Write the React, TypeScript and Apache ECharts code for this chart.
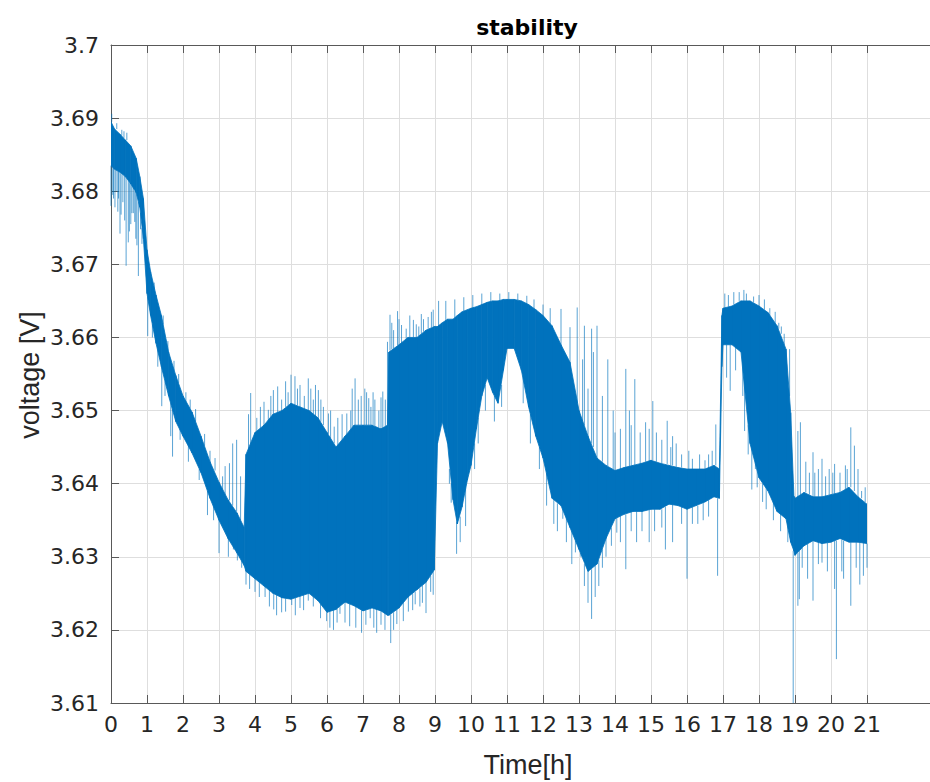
import React, { useEffect, useRef } from 'react';
import * as echarts from 'echarts';

// time [h] of the dense core band outline
const bandT = [
  0, 0.1, 0.25, 0.4, 0.55, 0.7, 0.8, 0.9, 1.0, 1.1, 1.25, 1.4, 1.6, 1.8, 2.0, 2.25, 2.5, 2.75, 3.0, 3.25, 3.5, 3.7,
  3.75, 4.0, 4.25, 4.5, 4.75, 5.0, 5.25, 5.5, 5.75, 6.0, 6.25, 6.5, 6.75, 7.0, 7.25, 7.5, 7.68, 7.72, 8.0, 8.25, 8.5,
  8.75, 8.98, 9.07, 9.2, 9.35, 9.5, 9.62, 9.75, 9.9, 10.0, 10.15, 10.3, 10.45, 10.6, 10.75, 10.9, 11.0, 11.2, 11.4,
  11.6, 11.8, 12.0, 12.25, 12.5, 12.75, 13.0, 13.25, 13.5, 13.75, 14.0, 14.25, 14.5, 14.75, 15.0, 15.25, 15.5, 15.75,
  16.0, 16.25, 16.5, 16.75, 16.9, 16.97, 17.0, 17.25, 17.5, 17.75, 18.0, 18.25, 18.5, 18.75, 18.88, 18.97, 19.0, 19.25,
  19.5, 19.75, 20.0, 20.25, 20.5, 20.75, 21.0,
];

// lower edge of the dense band [V]
const bandLow = [
  3.6835, 3.683, 3.6826, 3.682, 3.681, 3.6798, 3.6778, 3.6735, 3.666, 3.663, 3.6592, 3.656, 3.652, 3.6485, 3.6465,
  3.6442, 3.6415, 3.638, 3.635, 3.6325, 3.6305, 3.6288,
  3.628, 3.627, 3.626, 3.625, 3.6244, 3.6242, 3.6246, 3.625, 3.624, 3.6224, 3.6228, 3.6238, 3.6233, 3.6226, 3.623,
  3.6226, 3.622, 3.622, 3.623, 3.6245, 3.6255,
  3.6265, 3.6282, 3.6455, 3.6485, 3.6455, 3.6378, 3.6345, 3.6368, 3.6405, 3.6425, 3.6475, 3.652, 3.6545, 3.6525,
  3.651, 3.6555, 3.6585, 3.6585, 3.6555,
  3.6505, 3.6465, 3.6435, 3.638, 3.637, 3.634, 3.631, 3.628, 3.629, 3.6325, 3.6352, 3.6358, 3.6362, 3.6362, 3.6365,
  3.6365, 3.6372, 3.637,
  3.6365, 3.637, 3.6375, 3.6382, 3.638, 3.656, 3.659, 3.659, 3.658, 3.6455, 3.6408, 3.639, 3.6362, 3.6352, 3.632,
  3.6308, 3.6302, 3.6315,
  3.6322, 3.6318, 3.632, 3.6325, 3.632, 3.632, 3.6318,
];

// upper edge of the dense band [V]
const bandHigh = [
  3.6895, 3.6885, 3.6878, 3.687, 3.6862, 3.6845, 3.682, 3.679, 3.672, 3.669, 3.6658, 3.663, 3.658, 3.6548, 3.652,
  3.6498, 3.6465, 3.643, 3.6402, 3.6378, 3.636, 3.634,
  3.644, 3.647, 3.648, 3.6495, 3.65, 3.651, 3.6505, 3.65, 3.649, 3.647, 3.645, 3.6465, 3.648, 3.648, 3.648, 3.6475,
  3.648, 3.658, 3.659, 3.66, 3.66,
  3.661, 3.6615, 3.6615, 3.662, 3.6625, 3.6625, 3.663, 3.6635, 3.6638, 3.664, 3.6642, 3.6645, 3.6648, 3.665, 3.665,
  3.6652, 3.6652, 3.6652, 3.665,
  3.6645, 3.6638, 3.663, 3.6616, 3.659, 3.6566, 3.65, 3.6465, 3.6435, 3.6425, 3.6418, 3.6422, 3.6425, 3.6428, 3.6432,
  3.6428, 3.6425, 3.6422,
  3.642, 3.642, 3.642, 3.6425, 3.642, 3.663, 3.664, 3.6643, 3.665, 3.665, 3.6643, 3.6634, 3.6616, 3.6584, 3.6497,
  3.6383, 3.638, 3.6388,
  3.6382, 3.6382, 3.6385, 3.6388, 3.6395, 3.6382, 3.6372,
];

// isolated spikes: [time h, start V, tip V]
const spikes: [number, number, number][] = [
  // 0 - 1.3 h
  [0.0, 3.6835, 3.678], [0.02, 3.6895, 3.6906], [0.05, 3.6833, 3.6795], [0.07, 3.6832, 3.679], [0.11, 3.683, 3.6778],
  [0.14, 3.6829, 3.68], [0.16, 3.6885, 3.6893], [0.19, 3.6828, 3.6772], [0.21, 3.6827, 3.679], [0.25, 3.6826, 3.6742],
  [0.28, 3.6825, 3.6768], [0.3, 3.6876, 3.6884], [0.33, 3.6825, 3.6785], [0.36, 3.6873, 3.6882], [0.38, 3.6821, 3.676],
  [0.42, 3.682, 3.6698], [0.44, 3.687, 3.688], [0.48, 3.6815, 3.673], [0.51, 3.6812, 3.6745], [0.55, 3.681, 3.6755],
  [0.58, 3.6808, 3.677], [0.62, 3.6805, 3.677], [0.66, 3.68, 3.6758], [0.69, 3.6799, 3.6735], [0.72, 3.6795, 3.6726],
  [0.76, 3.6785, 3.6684], [0.82, 3.677, 3.6748], [0.86, 3.675, 3.6728], [1.02, 3.6655, 3.6602],
  // 1.1 - 3.7 h
  [1.15, 3.6618, 3.66], [1.2, 3.6665, 3.6675], [1.3, 3.6585, 3.656], [1.41, 3.656, 3.6506], [1.45, 3.6618, 3.663],
  [1.5, 3.654, 3.652], [1.58, 3.6582, 3.6595], [1.66, 3.651, 3.6465], [1.71, 3.6502, 3.6437], [1.75, 3.6555, 3.6568],
  [1.88, 3.6538, 3.655], [1.92, 3.6475, 3.646], [2.08, 3.651, 3.6525], [2.15, 3.6455, 3.643], [2.2, 3.6503, 3.6515],
  [2.35, 3.6485, 3.6502], [2.45, 3.642, 3.6405], [2.6, 3.6452, 3.6468], [2.68, 3.639, 3.6357], [2.75, 3.643, 3.6445],
  [2.85, 3.637, 3.635], [2.89, 3.6418, 3.6435], [3.0, 3.635, 3.6305], [3.1, 3.6392, 3.641], [3.17, 3.6385, 3.6424],
  [3.26, 3.6325, 3.63], [3.29, 3.6377, 3.6428], [3.38, 3.637, 3.6455], [3.4, 3.632, 3.631], [3.49, 3.6362, 3.646],
  [3.51, 3.6305, 3.6295], [3.6, 3.635, 3.641], [3.63, 3.6295, 3.6285],
  // 3.7 - 9 h upper
  [3.82, 3.6445, 3.6495], [3.88, 3.645, 3.6524], [4.05, 3.647, 3.649], [4.15, 3.6475, 3.6505], [4.25, 3.648, 3.6512],
  [4.37, 3.6485, 3.6501], [4.44, 3.649, 3.652], [4.51, 3.6495, 3.6528], [4.63, 3.6497, 3.6533], [4.74, 3.65, 3.6515],
  [4.85, 3.6505, 3.654], [4.92, 3.6507, 3.6525], [5.0, 3.651, 3.6549], [5.11, 3.6508, 3.6547], [5.18, 3.6507, 3.653],
  [5.25, 3.6505, 3.6535], [5.37, 3.6502, 3.652], [5.48, 3.65, 3.6544], [5.55, 3.6498, 3.653], [5.62, 3.6495, 3.6515],
  [5.68, 3.6492, 3.6535], [5.76, 3.649, 3.6528], [5.83, 3.6485, 3.6515], [5.9, 3.648, 3.6505], [6.04, 3.6468, 3.6496],
  [6.1, 3.6462, 3.65], [6.2, 3.6455, 3.6478], [6.3, 3.6452, 3.649], [6.42, 3.646, 3.6495], [6.55, 3.6467, 3.6496],
  [6.66, 3.6472, 3.65], [6.7, 3.6476, 3.653], [6.78, 3.648, 3.6544], [6.87, 3.648, 3.6515], [6.95, 3.648, 3.652],
  [7.05, 3.648, 3.653], [7.1, 3.648, 3.6525], [7.16, 3.648, 3.6517], [7.22, 3.648, 3.6505], [7.28, 3.648, 3.6525],
  [7.33, 3.6479, 3.6515], [7.44, 3.6477, 3.65], [7.5, 3.6475, 3.6518], [7.55, 3.6476, 3.6526], [7.62, 3.6478, 3.6515],
  [7.68, 3.648, 3.6594], [7.75, 3.6582, 3.6631], [7.8, 3.6584, 3.662], [7.85, 3.6585, 3.661], [7.96, 3.6589, 3.6636],
  [8.0, 3.659, 3.6625], [8.07, 3.6592, 3.6617], [8.2, 3.6598, 3.6612], [8.3, 3.66, 3.663], [8.4, 3.66, 3.6624],
  [8.48, 3.66, 3.6618], [8.55, 3.6602, 3.6615], [8.62, 3.6605, 3.6632], [8.68, 3.6608, 3.6625], [8.81, 3.6612, 3.6628],
  [8.9, 3.6614, 3.6635], [8.95, 3.6615, 3.6638],
  // 3.7 - 9 h lower
  [3.75, 3.628, 3.6262], [3.85, 3.6276, 3.6256], [4.0, 3.627, 3.6252], [4.12, 3.6266, 3.6245], [4.28, 3.626, 3.6245],
  [4.4, 3.6255, 3.6232], [4.52, 3.625, 3.6228], [4.6, 3.6248, 3.622], [4.74, 3.6245, 3.6224], [4.85, 3.6243, 3.6225],
  [5.02, 3.6242, 3.6234], [5.12, 3.6244, 3.622], [5.25, 3.6246, 3.623], [5.35, 3.6248, 3.6227], [5.48, 3.625, 3.624],
  [5.62, 3.6246, 3.6232], [5.82, 3.6236, 3.6216], [5.99, 3.6224, 3.6212], [6.08, 3.6225, 3.6203], [6.18, 3.6227, 3.62],
  [6.28, 3.6229, 3.621], [6.36, 3.6232, 3.6222], [6.5, 3.6238, 3.621], [6.63, 3.6236, 3.6205], [6.8, 3.6232, 3.6203],
  [6.96, 3.6227, 3.6196], [7.08, 3.6227, 3.6207], [7.2, 3.6229, 3.6216], [7.3, 3.6229, 3.6203], [7.38, 3.6229, 3.6196],
  [7.5, 3.6226, 3.6207], [7.61, 3.6223, 3.62], [7.77, 3.6221, 3.6182], [7.85, 3.6224, 3.62], [7.94, 3.6228, 3.6208],
  [8.12, 3.6237, 3.6212], [8.26, 3.6246, 3.6225], [8.38, 3.625, 3.6227], [8.45, 3.6252, 3.6235], [8.58, 3.6257, 3.6232],
  [8.65, 3.6261, 3.6237], [8.75, 3.6265, 3.6223], [8.88, 3.6274, 3.6252], [8.95, 3.628, 3.6248],
  // 9 - 17 h lower
  [9.4, 3.642, 3.64], [9.45, 3.64, 3.6374], [9.6, 3.6348, 3.6304], [9.7, 3.6355, 3.632], [9.85, 3.6395, 3.6342],
  [10.1, 3.6455, 3.642], [10.2, 3.649, 3.6455], [10.4, 3.6535, 3.65], [10.65, 3.652, 3.6485], [10.85, 3.6535, 3.6505],
  [11.45, 3.6545, 3.651], [11.65, 3.6495, 3.6455], [11.9, 3.645, 3.642], [12.1, 3.6415, 3.637], [12.3, 3.6378, 3.6345],
  [12.4, 3.6373, 3.6335], [12.55, 3.6368, 3.6352], [12.65, 3.6355, 3.632], [12.8, 3.6336, 3.629], [12.9, 3.6322, 3.6306],
  [13.05, 3.6305, 3.63], [13.15, 3.629, 3.626], [13.25, 3.628, 3.6237], [13.35, 3.6283, 3.6215], [13.45, 3.6288, 3.6245],
  [13.55, 3.6295, 3.626], [13.65, 3.631, 3.6285], [13.75, 3.6325, 3.63], [13.9, 3.634, 3.6315], [14.05, 3.6353, 3.6333],
  [14.15, 3.6356, 3.632], [14.3, 3.6358, 3.6283], [14.45, 3.6362, 3.6335], [14.6, 3.6362, 3.632], [14.75, 3.6362, 3.6335],
  [14.95, 3.6365, 3.632], [15.1, 3.6365, 3.6335], [15.3, 3.6365, 3.634], [15.4, 3.6368, 3.631], [15.6, 3.6372, 3.632],
  [15.85, 3.637, 3.6345], [16.0, 3.6365, 3.627], [16.15, 3.6368, 3.6345], [16.3, 3.637, 3.6345], [16.45, 3.6374, 3.635],
  [16.6, 3.6378, 3.6355], [16.85, 3.638, 3.6274],
  // 9 - 17 h upper
  [9.1, 3.6615, 3.665], [9.3, 3.6622, 3.665], [9.55, 3.6626, 3.6652], [9.8, 3.6636, 3.6655], [10.05, 3.664, 3.6658],
  [10.3, 3.6645, 3.666], [10.55, 3.6649, 3.6662], [10.8, 3.665, 3.666], [11.05, 3.6652, 3.6662], [11.3, 3.6651, 3.666],
  [11.55, 3.6646, 3.6657], [11.75, 3.6639, 3.6652], [12.0, 3.663, 3.6645], [12.2, 3.6618, 3.664], [12.5, 3.659, 3.6639],
  [12.75, 3.6566, 3.6614], [12.95, 3.651, 3.6641], [13.1, 3.6485, 3.657], [13.15, 3.648, 3.6616], [13.25, 3.6465, 3.653],
  [13.35, 3.6455, 3.6612], [13.4, 3.645, 3.658], [13.5, 3.6435, 3.6616], [13.65, 3.643, 3.652], [13.8, 3.6424, 3.657],
  [13.95, 3.642, 3.65], [14.0, 3.6418, 3.647], [14.15, 3.642, 3.6475], [14.3, 3.6422, 3.6557], [14.4, 3.6423, 3.65],
  [14.45, 3.6424, 3.648], [14.55, 3.6425, 3.6543], [14.7, 3.6427, 3.647], [14.85, 3.643, 3.6484], [14.95, 3.643, 3.6475],
  [15.05, 3.6432, 3.6513], [15.15, 3.643, 3.647], [15.3, 3.6428, 3.646], [15.45, 3.6427, 3.6486], [15.55, 3.6425, 3.645],
  [15.6, 3.6425, 3.6465], [15.7, 3.6423, 3.6455], [15.85, 3.6422, 3.644], [16.05, 3.642, 3.6445], [16.15, 3.642, 3.6434],
  [16.35, 3.642, 3.644], [16.5, 3.642, 3.6432], [16.6, 3.642, 3.644], [16.7, 3.6423, 3.6445], [16.8, 3.6425, 3.6481],
  // 17 - 21 h upper
  [17.05, 3.664, 3.666], [17.15, 3.6642, 3.6658], [17.3, 3.6645, 3.6662], [17.45, 3.665, 3.6662], [17.58, 3.665, 3.6665],
  [17.65, 3.665, 3.666], [17.85, 3.6648, 3.6656], [18.0, 3.6643, 3.6658], [18.15, 3.6638, 3.6652], [18.3, 3.663, 3.664],
  [18.45, 3.662, 3.6635], [18.55, 3.6612, 3.662], [18.62, 3.6605, 3.6615], [18.7, 3.659, 3.6605], [18.85, 3.652, 3.6584],
  [19.08, 3.6382, 3.6472], [19.15, 3.6385, 3.6484], [19.3, 3.6388, 3.643], [19.4, 3.6385, 3.6415], [19.5, 3.6382, 3.6443],
  [19.55, 3.6382, 3.6415], [19.65, 3.6382, 3.642], [19.75, 3.6382, 3.6434], [19.85, 3.6383, 3.641], [19.95, 3.6384, 3.642],
  [20.05, 3.6385, 3.6415], [20.1, 3.6386, 3.6427], [20.25, 3.6388, 3.6415], [20.4, 3.6392, 3.6425], [20.45, 3.6394, 3.642],
  [20.55, 3.6395, 3.6477], [20.65, 3.639, 3.6452], [20.75, 3.6382, 3.642], [20.85, 3.638, 3.639], [20.95, 3.6375, 3.6395],
  // 17 - 21 h lower
  [17.1, 3.659, 3.6545], [17.2, 3.659, 3.6527], [17.35, 3.659, 3.6555], [17.55, 3.657, 3.652], [17.6, 3.656, 3.6472],
  [17.7, 3.648, 3.644], [17.8, 3.645, 3.6392], [17.9, 3.643, 3.642], [17.95, 3.642, 3.6395], [18.1, 3.64, 3.6375],
  [18.2, 3.6395, 3.6365], [18.4, 3.6375, 3.635], [18.6, 3.636, 3.6335], [18.8, 3.635, 3.632], [18.95, 3.6308, 3.61],
  [19.08, 3.6305, 3.6233], [19.12, 3.6308, 3.6242], [19.2, 3.6312, 3.6285], [19.35, 3.6318, 3.627], [19.5, 3.6322, 3.624],
  [19.65, 3.632, 3.629], [19.75, 3.6318, 3.6292], [19.9, 3.6319, 3.628], [20.1, 3.6322, 3.6256], [20.15, 3.6322, 3.616],
  [20.3, 3.6323, 3.628], [20.35, 3.6322, 3.627], [20.55, 3.632, 3.6233], [20.7, 3.632, 3.6285], [20.8, 3.632, 3.6262],
  [20.9, 3.632, 3.6274], [21.0, 3.6318, 3.6285],
];

const yMin = 3.61;
const yMax = 3.7;
const yStep = 0.01;
const xMin = 0;
const xMax = 21;
const xStep = 1;

const BLUE = '#0072BD';
const AXIS = '#595959';
const GRIDC = '#dedede';
const TXT = '#262626';

export default function App() {
  const ref = useRef<HTMLDivElement>(null);
  useEffect(() => {
    if (!ref.current) return;
    const chart = echarts.init(ref.current, null, { renderer: 'svg' });

    // one polygon segment per pair of consecutive outline samples
    const bandData = bandT.slice(0, -1).map((t, i) => [
      t, bandLow[i], bandHigh[i], bandT[i + 1], bandLow[i + 1], bandHigh[i + 1],
    ]);
    const spikeData: any[] = [];
    spikes.forEach(([t, b, tip]) => {
      spikeData.push([t, b], [t, tip], [t, null]);
    });

    const tickFont = { fontFamily: 'DejaVu Sans', fontSize: 22, color: TXT };

    chart.setOption({
      animation: false,
      backgroundColor: '#ffffff',
      grid: [
        { left: 111, right: -20, top: 45, bottom: 79, containLabel: false },
        { left: 111, right: 63, top: 45, bottom: 79, containLabel: false },
      ],
      xAxis: [
        {
          gridIndex: 0, type: 'value', min: 0, max: 1, position: 'bottom',
          axisLine: { show: true, lineStyle: { color: AXIS, width: 1 } },
          axisTick: { show: false }, axisLabel: { show: false }, splitLine: { show: false },
        },
        {
          gridIndex: 0, type: 'value', min: 0, max: 1, position: 'top',
          axisLine: { show: true, lineStyle: { color: AXIS, width: 1 } },
          axisTick: { show: false }, axisLabel: { show: false }, splitLine: { show: false },
        },
        {
          gridIndex: 1, type: 'value', min: xMin, max: xMax, interval: xStep, position: 'bottom',
          axisLine: { show: false },
          axisTick: { show: true, inside: true, length: 8, lineStyle: { color: AXIS, width: 1 } },
          axisLabel: { show: true, margin: 10, ...tickFont },
          splitLine: { show: true, lineStyle: { color: GRIDC, width: 1 } },
        },
        {
          gridIndex: 1, type: 'value', min: xMin, max: xMax, interval: xStep, position: 'top',
          axisLine: { show: false },
          axisTick: { show: true, inside: true, length: 8, lineStyle: { color: AXIS, width: 1 } },
          axisLabel: { show: false }, splitLine: { show: false },
        },
      ],
      yAxis: [
        {
          gridIndex: 0, type: 'value', min: yMin, max: yMax, interval: yStep, position: 'left',
          axisLine: { show: true, lineStyle: { color: AXIS, width: 1 } },
          axisTick: { show: true, inside: true, length: 8, lineStyle: { color: AXIS, width: 1 } },
          axisLabel: {
            show: true, margin: 12, ...tickFont,
            formatter: (v: number) => String(+v.toFixed(2)),
          },
          splitLine: { show: true, lineStyle: { color: GRIDC, width: 1 } },
        },
        {
          gridIndex: 1, type: 'value', min: yMin, max: yMax, interval: yStep, show: false,
        },
      ],
      series: [
        {
          type: 'custom', xAxisIndex: 2, yAxisIndex: 1, data: bandData, silent: true, clip: true,
          encode: { x: [0, 3], y: [1, 2, 4, 5] },
          renderItem: (params: any, api: any) => {
            const a = api.coord([api.value(0), api.value(1)]);
            const b = api.coord([api.value(3), api.value(4)]);
            const c = api.coord([api.value(3), api.value(5)]);
            const d = api.coord([api.value(0), api.value(2)]);
            return {
              type: 'polygon',
              shape: { points: [a, b, c, d] },
              style: { fill: BLUE, stroke: BLUE, lineWidth: 0.8 },
            };
          },
        },
        {
          type: 'line', xAxisIndex: 2, yAxisIndex: 1, data: spikeData,
          symbol: 'none', silent: true, connectNulls: false,
          lineStyle: { color: BLUE, width: 1, opacity: 0.65 },
        },
      ],
      graphic: [
        {
          type: 'text', x: 527, y: 27,
          style: {
            text: 'stability', fontFamily: 'DejaVu Sans', fontWeight: 'bold', fontSize: 22,
            fill: '#000', align: 'center', verticalAlign: 'middle',
          },
        },
        {
          type: 'text', x: 528, y: 765,
          style: {
            text: 'Time[h]', fontFamily: 'Liberation Sans', fontSize: 27,
            fill: TXT, align: 'center', verticalAlign: 'middle',
          },
        },
        {
          type: 'text', x: 30, y: 375, rotation: Math.PI / 2,
          style: {
            text: 'voltage [V]', fontFamily: 'Liberation Sans', fontSize: 27,
            fill: TXT, align: 'center', verticalAlign: 'middle',
          },
        },
      ],
    });

    return () => chart.dispose();
  }, []);

  return (
    <div
      ref={ref}
      style={{ position: 'fixed', left: 0, top: 0, width: 930, height: 782, background: '#fff' }}
    />
  );
}
